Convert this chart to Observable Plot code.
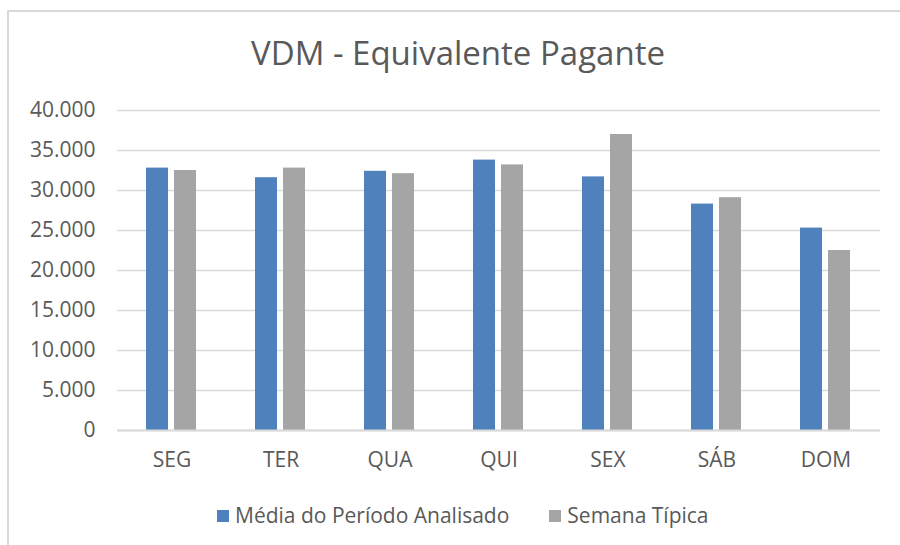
<!DOCTYPE html>
<html><head><meta charset="utf-8">
<script src="https://cdn.jsdelivr.net/npm/d3@7"></script>
<script src="https://cdn.jsdelivr.net/npm/@observablehq/plot@0.6"></script>
<style>
body{margin:0;background:#fff;font-family:"Open Sans",sans-serif;}
#wrap{position:relative;width:900px;height:545px;overflow:hidden;background:#fff}
#frame{position:absolute;left:7px;top:10px;width:1000px;height:1000px;border:2px solid #d9d9d9;box-sizing:border-box}
#title{position:absolute;left:0;width:916px;top:36px;text-align:center;font-size:33px;line-height:33px;color:#595959;white-space:nowrap}
#chart{position:absolute;left:0;top:90px}
#legend{position:absolute;left:217px;top:505px;display:flex;gap:40px;font-size:21px;line-height:21px;color:#595959;white-space:nowrap}
.item{display:flex;align-items:center;gap:6px}
.sw{width:12px;height:12px;display:inline-block}
</style></head>
<body>
<div id="wrap">
  <div id="frame"></div>
  <div id="title">VDM - Equivalente Pagante</div>
  <div id="chart"></div>
  <div id="legend"></div>
</div>
<script>
const days = ["SEG","TER","QUA","QUI","SEX","SÁB","DOM"];
const seriesNames = ["Média do Período Analisado","Semana Típica"];
const media = [32800, 31600, 32400, 33800, 31700, 28300, 25300];
const tipica = [32500, 32800, 32100, 33200, 37000, 29100, 22500];
const yTicks = [0,5000,10000,15000,20000,25000,30000,35000,40000];
const colors = ["#4f81bd","#a5a5a5"];

const rows = [];
days.forEach((d,i)=>{
  rows.push({day:d, series:seriesNames[0], value:media[i]});
  rows.push({day:d, series:seriesNames[1], value:tipica[i]});
});
const loc = d3.formatLocale({decimal:",", thousands:".", grouping:[3], currency:["R$",""]});
const fmt = loc.format(",.0f");

const chart = Plot.plot({
  width: 900, height: 400,
  marginTop: 20, marginBottom: 60, marginLeft: 114, marginRight: 17,
  style: {fontFamily:"Open Sans", fontSize:"21px", color:"#595959", background:"transparent", overflow:"visible"},
  fx: {domain: days, padding: 0, label: null, axis: "bottom", tickSize: 0, tickPadding: 22},
  x: {domain: seriesNames, paddingInner: 0.207, paddingOuter: 1.0, align: 0.5, axis: null},
  y: {domain: [0,40000], ticks: yTicks, tickFormat: fmt, label: null, tickSize: 0, tickPadding: 22},
  color: {domain: seriesNames, range: colors},
  marks: [
    Plot.gridY(yTicks, {stroke:"#d9d9d9", strokeOpacity:1, strokeWidth:1.5}),
    Plot.barY(rows, {fx:"day", x:"series", y:"value", fill:"series"}),
    Plot.ruleY([0], {stroke:"#d9d9d9", strokeWidth:2})
  ]
});
document.getElementById("chart").appendChild(chart);

const lg = document.getElementById("legend");
seriesNames.forEach((s,i)=>{
  const it = document.createElement("div"); it.className="item";
  const sw = document.createElement("span"); sw.className="sw"; sw.style.background=colors[i];
  const tx = document.createElement("span"); tx.textContent = s;
  it.appendChild(sw); it.appendChild(tx); lg.appendChild(it);
});
</script>
</body></html>
